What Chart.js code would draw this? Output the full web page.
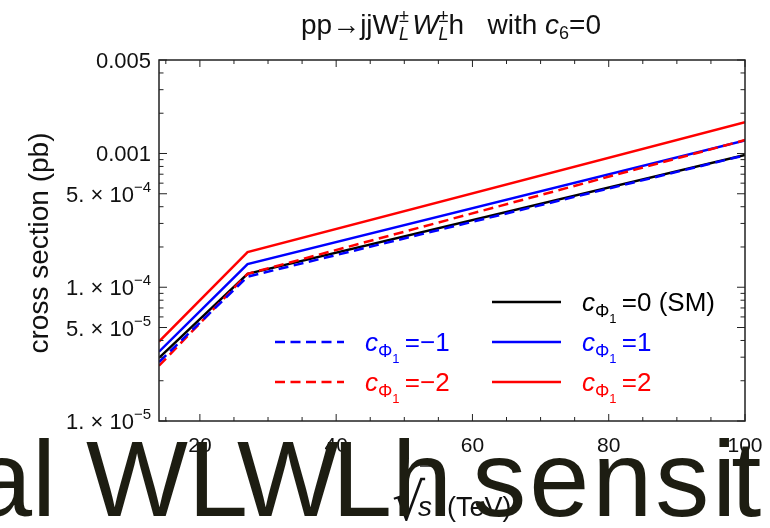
<!DOCTYPE html>
<html>
<head>
<meta charset="utf-8">
<style>
  html, body { margin: 0; padding: 0; background: #fff; overflow: hidden; }
  #wrap { position: relative; width: 770px; height: 528px; overflow: hidden; }
  #overlay {
    position: absolute; left: -28px; top: 425px;
    font: 108px/1 "Liberation Sans", Arial, sans-serif;
    color: #1d1d12; white-space: nowrap; pointer-events: none;
  }
  #overlay .k1 { letter-spacing: -11px; }
  #overlay .k2 { letter-spacing: -7px; }
  #overlay .k3 { letter-spacing: -10px; }
  #overlay .k4 { letter-spacing: 3px; }
  #overlay .k5 { letter-spacing: -5px; }
</style>
</head>
<body>
<div id="wrap">
  <canvas id="xsec" width="770" height="528"></canvas>
  <div id="overlay">al W<span class="k1">L</span><span class="k2">W</span>Lh<span class="k3"> </span><span class="k4">sens</span><span class="k5">i</span>t</div>
</div>

<script src="https://cdn.jsdelivr.net/npm/chart.js"></script>
<script>
  // sqrt(s) in TeV
  const energies = [14, 27, 100];
  const xTicks = [20, 40, 60, 80, 100];

  // cross sections (pb)
  const sm      = [2.96e-5, 1.26e-4, 9.75e-4];
  const cPlus1  = [3.30e-5, 1.49e-4, 1.25e-3];
  const cPlus2  = [3.92e-5, 1.83e-4, 1.71e-3];
  const cMinus1 = [2.76e-5, 1.20e-4, 9.70e-4];
  const cMinus2 = [2.59e-5, 1.26e-4, 1.26e-3];

  const seriesLabels = ['=\u22121', '=\u22122', '=0 (SM)', '=1', '=2'];

  // y tick labels: value, mantissa, exponent
  const yTickValues = [5e-3, 1e-3, 5e-4, 1e-4, 5e-5, 1e-5];
  const yTickMant   = ['0.005', '0.001', '5.', '1.', '5.', '1.'];
  const yTickExp    = [null, null, '\u22124', '\u22124', '\u22125', '\u22125'];

  const FONT = '"Liberation Sans", Arial, sans-serif';
  const BLUE = '#0000ff', RED = '#ff0000', BLACK = '#000000';

  function fnt(size, italic) { return (italic ? 'italic ' : '') + size + 'px ' + FONT; }

  function runWidth(ctx, r) {
    if (r.stack) return Math.max(...r.stack.map(s => runWidth(ctx, s)));
    ctx.font = fnt(r.size, r.italic);
    return ctx.measureText(r.t).width;
  }

  // draws a row of text pieces (sub/superscripts via dy)
  function drawRuns(ctx, runs, x, y, align) {
    const total = runs.reduce((a, r) => a + runWidth(ctx, r), 0);
    let cx = align === 'center' ? x - total / 2 : align === 'right' ? x - total : x;
    ctx.textAlign = 'left';
    ctx.textBaseline = 'alphabetic';
    runs.forEach(r => {
      const w = runWidth(ctx, r);
      (r.stack || [r]).forEach(s => {
        ctx.font = fnt(s.size, s.italic);
        ctx.fillText(s.t, cx, y + (s.dy || 0));
      });
      cx += w;
    });
  }

  function seg(ctx, x1, y1, x2, y2) {
    ctx.beginPath(); ctx.moveTo(x1, y1); ctx.lineTo(x2, y2); ctx.stroke();
  }

  const decorations = {
    id: 'decorations',
    afterDraw(chart, args, opts) {
      const ctx = chart.ctx;
      const a = chart.chartArea;
      const xs = chart.scales.x, ys = chart.scales.y;
      ctx.save();

      // frame + inward ticks
      ctx.strokeStyle = '#222';
      ctx.lineWidth = 1.5;
      ctx.strokeRect(a.left, a.top, a.right - a.left, a.bottom - a.top);
      ctx.lineWidth = 1;
      for (let v = 15; v <= 100; v += 5) {
        const px = xs.getPixelForValue(v);
        const len = v % 20 === 0 ? 7 : 4;
        seg(ctx, px, a.bottom, px, a.bottom - len);
        seg(ctx, px, a.top, px, a.top + len);
      }
      [1e-5, 1e-4, 1e-3].forEach(d => {
        for (let m = 1; m <= 9; m++) {
          const v = m * d;
          if (v > 5.0001e-3) break;
          const py = ys.getPixelForValue(v);
          const len = (m === 1 || m === 5) ? 8 : 4.5;
          seg(ctx, a.left, py, a.left + len, py);
          seg(ctx, a.right, py, a.right - len, py);
        }
      });

      // x tick labels
      ctx.fillStyle = '#111';
      xTicks.forEach(v => {
        drawRuns(ctx, [{ t: String(v), size: 21 }], xs.getPixelForValue(v), a.bottom + 31, 'center');
      });

      // y tick labels
      yTickValues.forEach((v, i) => {
        const py = ys.getPixelForValue(v);
        const runs = yTickExp[i] === null
          ? [{ t: yTickMant[i], size: 22 }]
          : [{ t: yTickMant[i] + ' \u00d7 10', size: 22 }, { t: yTickExp[i], size: 15, dy: -10 }];
        drawRuns(ctx, runs, a.left - 8, py + 8, 'right');
      });

      // axis titles
      ctx.save();
      ctx.translate(40, 243);
      ctx.rotate(-Math.PI / 2);
      ctx.font = fnt(28);
      ctx.textAlign = 'center';
      ctx.textBaseline = 'middle';
      ctx.fillText('cross section (pb)', 0, 0);
      ctx.restore();

      ctx.font = '52px "DejaVu Sans"';
      ctx.textAlign = 'left';
      ctx.textBaseline = 'alphabetic';
      ctx.fillText('\u221a', 392, 520);
      drawRuns(ctx, [{ t: 's', size: 28, italic: true }], 418, 516, 'left');
      ctx.lineWidth = 1.5;
      seg(ctx, 420, 466, 437, 466);
      drawRuns(ctx, [{ t: '(TeV)', size: 27 }], 447, 516, 'left');

      // title
      const S = 18, T = 28;
      drawRuns(ctx, [
        { t: 'pp\u2192jjW', size: T },
        { stack: [{ t: '\u00b1', size: S, dy: -12 }, { t: 'L', size: S, italic: true, dy: 6 }] },
        { t: ' ', size: T * 0.4 },
        { t: 'W', size: T, italic: true },
        { stack: [{ t: '\u00b1', size: S, dy: -12 }, { t: 'L', size: S, italic: true, dy: 6 }] },
        { t: 'h   with ', size: T },
        { t: 'c', size: T, italic: true },
        { t: '6', size: S, dy: 5 },
        { t: '=0', size: T }
      ], 451, 34, 'center');

      // legend, two columns
      chart.data.datasets.forEach((ds, i) => {
        const slot = opts.slots[i];
        const lx = opts.cols[slot.col], ly = opts.rows[slot.row];
        ctx.strokeStyle = ds.borderColor;
        ctx.lineWidth = ds.borderWidth;
        ctx.setLineDash(ds.borderDash || []);
        seg(ctx, lx, ly, lx + opts.lineLen, ly);
        ctx.setLineDash([]);
        ctx.fillStyle = ds.borderColor;
        drawRuns(ctx, [
          { t: 'c', size: 26, italic: true },
          { t: '\u03a6', size: 18, dy: 6 },
          { t: '1', size: 13, dy: 12 },
          { t: '\u2009' + ds.label, size: 26 }
        ], lx + opts.textGap, ly + 9, 'left');
      });

      ctx.restore();
    }
  };

  const pts = vals => energies.map((e, i) => ({ x: e, y: vals[i] }));
  const dash = [10, 5.5];

  new Chart(document.getElementById('xsec').getContext('2d'), {
    type: 'line',
    data: {
      datasets: [
        { label: seriesLabels[0], data: pts(cMinus1), borderColor: BLUE, borderDash: dash, borderWidth: 2.5 },
        { label: seriesLabels[1], data: pts(cMinus2), borderColor: RED, borderDash: dash, borderWidth: 2.5 },
        { label: seriesLabels[2], data: pts(sm), borderColor: BLACK, borderWidth: 2.5 },
        { label: seriesLabels[3], data: pts(cPlus1), borderColor: BLUE, borderWidth: 2.5 },
        { label: seriesLabels[4], data: pts(cPlus2), borderColor: RED, borderWidth: 2.5 }
      ]
    },
    options: {
      responsive: false,
      animation: false,
      layout: { padding: { top: 60, right: 25, left: 0, bottom: 0 } },
      elements: { point: { radius: 0 }, line: { tension: 0, fill: false } },
      plugins: {
        legend: { display: false },
        title: { display: false },
        tooltip: { enabled: false },
        decorations: {
          cols: [275, 492],
          rows: [302, 342, 382],
          lineLen: 69,
          textGap: 90,
          slots: [
            { col: 0, row: 1 }, { col: 0, row: 2 },
            { col: 1, row: 0 }, { col: 1, row: 1 }, { col: 1, row: 2 }
          ]
        }
      },
      scales: {
        x: {
          type: 'linear',
          min: 14,
          max: 100,
          afterFit: s => { s.height = 107; },
          grid: { display: false, drawTicks: false },
          border: { display: false },
          ticks: { display: false }
        },
        y: {
          type: 'logarithmic',
          min: 1e-5,
          max: 5e-3,
          afterFit: s => { s.width = 159; },
          grid: { display: false },
          border: { display: false },
          ticks: { display: false }
        }
      }
    },
    plugins: [decorations]
  });
</script>
</body>
</html>
